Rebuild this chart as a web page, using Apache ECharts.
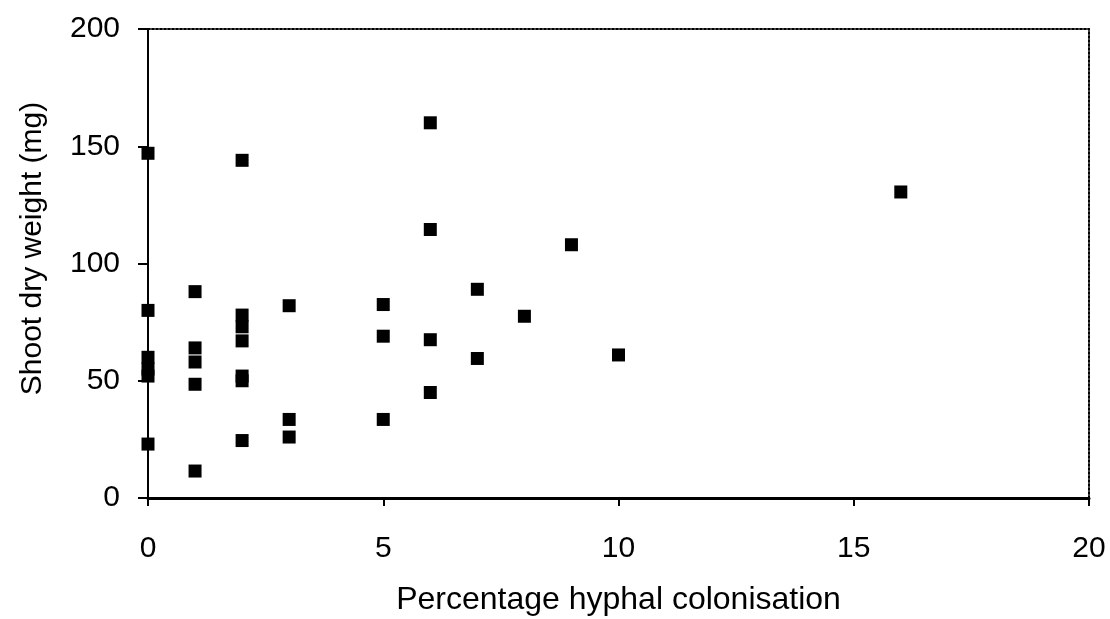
<!DOCTYPE html>
<html>
<head>
<meta charset="utf-8">
<script src="https://cdn.jsdelivr.net/npm/echarts@6/dist/echarts.min.js"></script>
<style>
  html, body { margin: 0; padding: 0; background: #fff; }
  #chart { width: 1110px; height: 619px; }
</style>
</head>
<body>
<div id="chart"></div>
<script>
// Hyphal colonisation (%) against shoot dry weight (mg), one entry per plant
const colonisation = [0, 0, 0, 0, 0, 0,
  1, 1, 1, 1, 1,
  2, 2, 2, 2, 2, 2, 2,
  3, 3, 3,
  5, 5, 5,
  6, 6, 6, 6,
  7, 7,
  8, 9, 10, 16];
const shootWeight = [147, 80, 60, 55, 52, 23,
  88, 64, 58, 48.5, 11.5,
  144, 78, 73, 67, 52, 50, 24.5,
  82, 33.5, 26,
  82.5, 69, 33.5,
  160, 114.5, 67.5, 45,
  89, 59.5,
  77.5, 108, 61, 130.5];

const xTicks = [0, 5, 10, 15, 20];
const yTicks = [0, 50, 100, 150, 200];

const points = colonisation.map((x, i) => [x, shootWeight[i]]);

const font = 'Liberation Sans';
const fontSize = 30;
const chart = echarts.init(document.getElementById('chart'));
chart.setOption({
  animation: false,
  backgroundColor: '#fff',
  textStyle: { fontFamily: font, color: '#000' },
  grid: {
    left: 148, right: 21, top: 29, bottom: 121,
    containLabel: false, outerBoundsMode: 'none'
  },
  xAxis: [{
    type: 'value',
    min: xTicks[0], max: xTicks[xTicks.length - 1], interval: 5,
    name: 'Percentage hyphal colonisation',
    nameLocation: 'middle', nameGap: 86,
    nameTextStyle: { fontFamily: font, fontSize: 32, color: '#000' },
    axisLine: { show: true, onZero: false, lineStyle: { color: '#000', width: 3 } },
    axisTick: { show: true, inside: false, length: 8, lineStyle: { color: '#000', width: 2 } },
    axisLabel: { fontFamily: font, fontSize: fontSize, color: '#000', margin: 36 },
    splitLine: { show: false }
  }, {
    // dotted frame edge along the top
    type: 'value', position: 'top',
    min: xTicks[0], max: xTicks[xTicks.length - 1],
    axisLine: { show: true, onZero: false, lineStyle: { color: '#000', width: 2, type: [2, 2] } },
    axisTick: { show: false }, axisLabel: { show: false }, splitLine: { show: false }
  }],
  yAxis: [{
    type: 'value',
    min: yTicks[0], max: yTicks[yTicks.length - 1], interval: 50,
    name: 'Shoot dry weight (mg)',
    nameLocation: 'middle', nameGap: 100, nameRotate: 90,
    nameTextStyle: { fontFamily: font, fontSize: fontSize, color: '#000', padding: [0, 0, 0, 30] },
    axisLine: { show: true, onZero: false, lineStyle: { color: '#000', width: 2 } },
    axisTick: { show: true, inside: false, length: 10, lineStyle: { color: '#000', width: 2 } },
    axisLabel: { fontFamily: font, fontSize: fontSize, color: '#000', margin: 28 },
    splitLine: { show: false }
  }, {
    // dotted frame edge along the right
    type: 'value', position: 'right',
    min: yTicks[0], max: yTicks[yTicks.length - 1],
    axisLine: { show: true, onZero: false, lineStyle: { color: '#000', width: 2, type: [2, 2] } },
    axisTick: { show: false }, axisLabel: { show: false }, splitLine: { show: false }
  }],
  series: [{
    type: 'scatter',
    xAxisIndex: 0, yAxisIndex: 0,
    symbol: 'rect',
    symbolSize: 13,
    itemStyle: { color: '#000', opacity: 1 },
    data: points
  }]
});
</script>
</body>
</html>
